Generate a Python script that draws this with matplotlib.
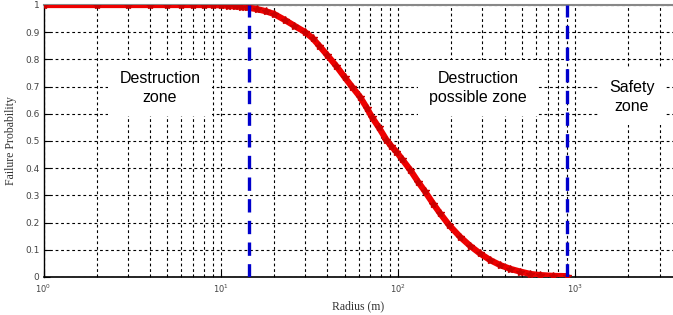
import matplotlib
matplotlib.use("Agg")
import matplotlib.pyplot as plt
from matplotlib.ticker import LogLocator, FixedLocator, NullFormatter

# Data
radius = [1, 2, 3, 4, 5, 6, 7, 8, 9, 10, 11, 12, 13, 14, 16, 18, 20, 23, 26,
          30, 33, 36, 40, 45, 50, 55, 61, 67, 71, 78, 86, 92, 98, 105, 117,
          130, 142, 158, 173, 195, 224, 255, 290, 330, 377, 430, 489, 560,
          632, 750, 897]
failure_prob = [1, 1, 1, 1, 1, 1, 1, 1, 1, 0.999, 0.997, 0.995, 0.993, 0.991,
                0.985, 0.977, 0.967, 0.945, 0.924, 0.900, 0.878, 0.850, 0.815,
                0.775, 0.735, 0.700, 0.663, 0.620, 0.590, 0.550, 0.505, 0.480,
                0.461, 0.435, 0.395, 0.350, 0.315, 0.270, 0.234, 0.190, 0.148,
                0.115, 0.087, 0.063, 0.044, 0.030, 0.020, 0.011, 0.007, 0.004,
                0.003]
zone_bounds = [14.4, 900]
y_ticks = [0, 0.1, 0.2, 0.3, 0.4, 0.5, 0.6, 0.7, 0.8, 0.9, 1]
y_tick_labels = ["0", "0.1", "0.2", "0.3", "0.4", "0.5", "0.6", "0.7", "0.8", "0.9", "1"]
x_ticks = [1, 10, 100, 1000]
x_tick_labels = ["$10^0$", "$10^1$", "$10^2$", "$10^3$"]
zone_labels = ["Destruction\nzone", "Destruction\npossible zone", "Safety\nzone"]

W, H = 673, 315
fig = plt.figure(figsize=(W / 100, H / 100), dpi=100)
left, bottom, top = 43.5, 277, 5
ax = fig.add_axes([left / W, (H - bottom) / H, (W - left) / W, (bottom - top) / H])

ax.set_xscale("log")
xmax = 10 ** ((W - left) / 177.2)
ax.set_xlim(1, xmax)
ax.set_ylim(0, 1)

ax.grid(True, which="major", axis="both", color="black", linestyle=(0, (2.5, 2.5)), linewidth=0.8)
ax.grid(True, which="minor", axis="x", color="black", linestyle=(0, (2.5, 2.5)), linewidth=0.8)

ax.plot(radius, failure_prob, color="#ee0000", linewidth=4.5, marker="*",
        markersize=6, markerfacecolor="#cc0000", markeredgecolor="#cc0000",
        markeredgewidth=1.0, zorder=4, solid_capstyle="round")

for xb in zone_bounds:
    ax.axvline(xb, color="#0000cc", linestyle=(0, (4, 2.5)), linewidth=2.4, zorder=5)

text_pos = [(160, 88), (478, 88), (632, 97)]
for lab, (px, py) in zip(zone_labels, text_pos):
    ax.text(px / W, 1 - py / H, lab, transform=fig.transFigure,
            ha="center", va="center", fontsize=11.5, family="Liberation Sans",
            linespacing=1.3, zorder=6,
            bbox=dict(facecolor="white", edgecolor="none", pad=8))

ax.set_yticks(y_ticks)
ax.set_yticklabels(y_tick_labels)
ax.xaxis.set_major_locator(FixedLocator(x_ticks))
ax.xaxis.set_minor_locator(LogLocator(base=10, subs=range(2, 10), numticks=20))
ax.xaxis.set_minor_formatter(NullFormatter())
ax.set_xticklabels(x_tick_labels)

ax.tick_params(axis="both", which="both", direction="in", colors="black",
               labelcolor="#444444")
ax.tick_params(axis="y", labelsize=6.5, length=4, pad=3)
ax.tick_params(axis="x", which="major", labelsize=6, length=4, pad=4)
ax.tick_params(axis="x", which="minor", length=2)

ax.spines["right"].set_visible(False)
ax.spines["top"].set_color("#888888")
ax.spines["top"].set_linewidth(1.5)
ax.spines["left"].set_linewidth(1.0)
ax.spines["bottom"].set_linewidth(1.2)

ax.set_xlabel("Radius (m)", family="Liberation Serif", fontsize=8.5, color="#333333", labelpad=4)
ax.set_ylabel("Failure Probability", family="Liberation Serif", fontsize=8.5, color="#333333", labelpad=6)

fig.savefig("out.png", dpi=100)
